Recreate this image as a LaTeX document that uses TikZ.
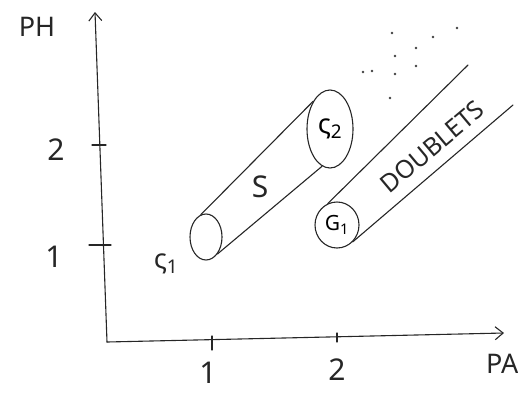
\documentclass[tikz,border=0pt]{standalone}
\usepackage{fontspec}
\setmainfont{Noto Sans}
\usetikzlibrary{shapes.geometric,arrows.meta}
\begin{document}
\begin{tikzpicture}[x=1pt,y=-1pt,
  ln/.style={line width=1.1pt,line cap=round,line join=round,draw=black!85},
  axtip/.style={-{Straight Barb[length=8pt,width=13pt,line width=1.1pt]}},
  lbl/.style={inner sep=0pt,text=black!85},
  big/.style={lbl,font=\fontsize{30}{30}\selectfont},
  mid/.style={lbl,font=\fontsize{27}{27}\selectfont},
  endell/.style={ln,ellipse,inner sep=0pt}]
\useasboundingbox (0,0) rectangle (518,394);
% axes
\coordinate (O) at (107,342);
\coordinate (ytop) at (95,12);
\coordinate (xend) at (504,333);
\draw[ln,axtip] (O) -- (ytop);
\draw[ln,axtip] (O) -- (xend);
% ticks
\coordinate (ty2a) at (92,145); \coordinate (ty2b) at (106,145);
\coordinate (ty1a) at (89,245); \coordinate (ty1b) at (111,245);
\coordinate (tx1a) at (212,336); \coordinate (tx1b) at (212,350);
\coordinate (tx2a) at (337,333); \coordinate (tx2b) at (337,342);
\draw[ln] (ty2a) -- (ty2b);
\draw[ln] (ty1a) -- (ty1b);
\draw[ln] (tx1a) -- (tx1b);
\draw[ln] (tx2a) -- (tx2b);
% axis labels
\node[big,font=\fontsize{27}{27}\selectfont] (ph) at (37,27) {PH};
\node[big,font=\fontsize{27}{27}\selectfont,anchor=west] (pa) at (486,364) {PA};
\node[big] (ly2) at (56,150) {2};
\node[big] (ly1) at (54,257) {1};
\node[big] (lx1) at (208,373) {1};
\node[big] (lx2) at (337,370) {2};
% cylinder S
\node[endell,draw,minimum width=32pt,minimum height=46pt] (s1) at (206,237) {};
\node[endell,draw,minimum width=46pt,minimum height=78pt] (s2) at (330,129)
  {\fontsize{27}{27}\selectfont ς\textsubscript{2}};
\draw[ln] (s1.103) -- (s2.121);
\draw[ln] (s1.-56) -- (s2.-102);
\node[big] (slbl) at (260,187) {S};
\node[mid] (s1lbl) at (166,264) {ς\textsubscript{1}};
% doublets band
\node[endell,draw,minimum width=44pt,minimum height=46pt] (g1) at (337,225)
  {\fontsize{21}{21}\selectfont G\textsubscript{1}};
\coordinate (bu) at (468,65);
\coordinate (bl) at (513,105);
\draw[ln] (g1.113) -- (bu);
\draw[ln] (g1.-47) -- (bl);
\node[lbl,font=\fontsize{25}{25}\selectfont,rotate=40] (dbl) at (432,147) {DOUBLETS};
% dots
\foreach \p in {(392,33),(433,37),(457,28),(395,56),(416,48),(416,66),(363,72),(372,71),(395,74),(390,98)}
  \fill[black!75] \p circle (1.3pt);
\end{tikzpicture}
\end{document}
